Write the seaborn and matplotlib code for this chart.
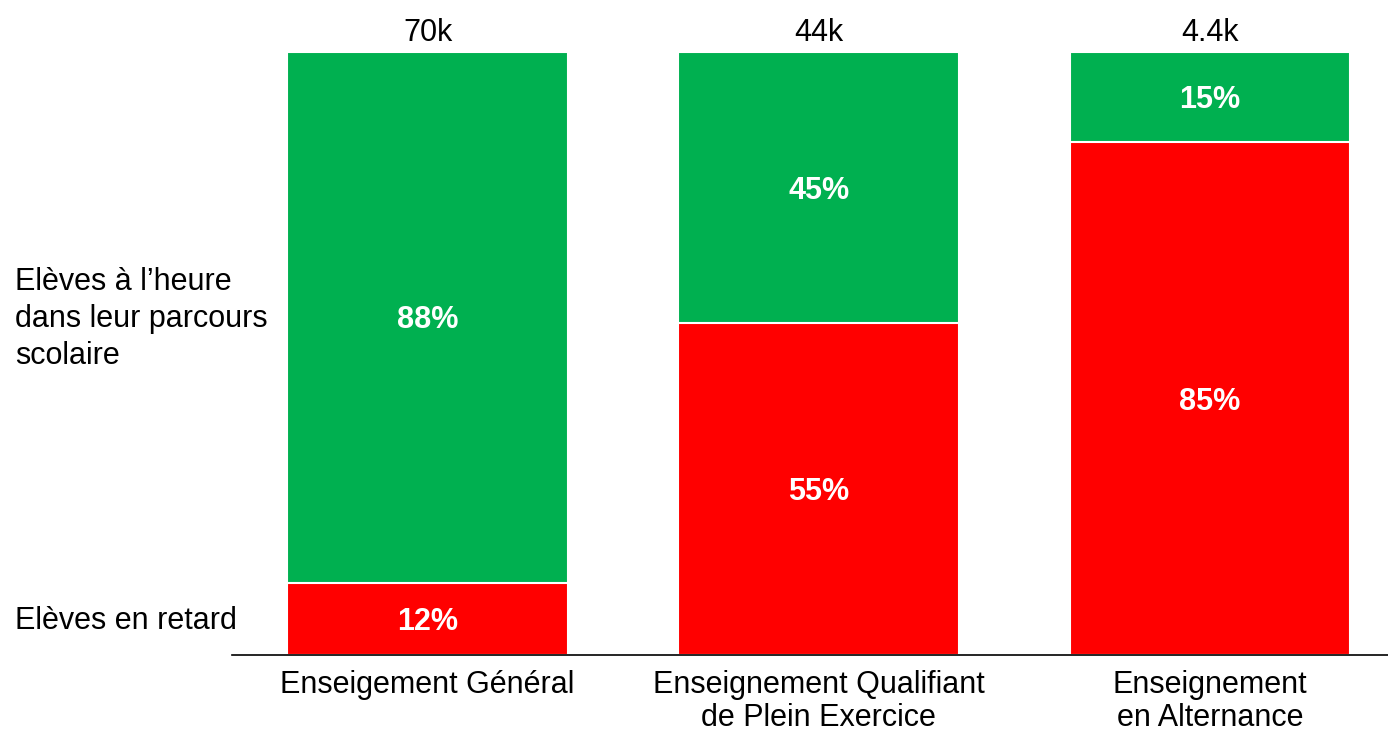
import matplotlib
matplotlib.use("Agg")
import matplotlib.pyplot as plt
import seaborn as sns
import pandas as pd

categories = ["Enseigement Général", "Enseignement Qualifiant\nde Plein Exercice", "Enseignement\nen Alternance"]
retard = [12, 55, 85]
heure = [88, 45, 15]
totals = ["70k", "44k", "4.4k"]
row_labels = ["Elèves à l\u2019heure\ndans leur parcours\nscolaire", "Elèves en retard"]

GREEN = "#00B050"
RED = "#FF0000"

sns.set_theme(style="white")
plt.rcParams['font.family'] = ['Liberation Sans', 'DejaVu Sans']

fig = plt.figure(figsize=(13.88, 7.33), dpi=100)
ax = fig.add_axes([232/1388, 1 - 655/733, 1 - 232/1388, (655-52)/733])

df = pd.DataFrame({"cat": categories, "retard": retard, "heure": heure})
df["total"] = df["retard"] + df["heure"]

sns.barplot(data=df, x="cat", y="total", color=GREEN, width=0.718, ax=ax,
            edgecolor="white", linewidth=1.5, saturation=1)
sns.barplot(data=df, x="cat", y="retard", color=RED, width=0.718, ax=ax,
            edgecolor="white", linewidth=1.5, saturation=1)

ax.set_xlim(-0.5, 2.455)
ax.set_ylim(0, 100)
for s in ["top", "right", "left"]:
    ax.spines[s].set_visible(False)
ax.spines["bottom"].set_color("black")
ax.spines["bottom"].set_linewidth(1.2)
ax.set_yticks([])
ax.set_xlabel("")
ax.set_ylabel("")
ax.tick_params(axis="x", length=0, pad=11, labelsize=22)
ax.set_xticks(range(len(categories)))
ax.set_xticklabels(categories, fontsize=22, color="black", linespacing=1.14)

for i, (r, h) in enumerate(zip(retard, heure)):
    ax.text(i, r / 2 - 0.5, f"{r}%", ha="center", va="center", color="white",
            fontsize=22, fontweight="bold")
    ax.text(i, r + h / 2 - 0.5, f"{h}%", ha="center", va="center", color="white",
            fontsize=22, fontweight="bold")
    ax.text(i, r + h + 0.6, totals[i], ha="center", va="bottom", color="black",
            fontsize=22, clip_on=False)

fig.text(15/1388, 1 - 319/733, row_labels[0], ha="left", va="center",
         fontsize=22, color="black", linespacing=1.29)
fig.text(15/1388, 1 - 621/733, row_labels[1], ha="left", va="center",
         fontsize=22, color="black")

fig.savefig("out.png", dpi=100, facecolor="white")
